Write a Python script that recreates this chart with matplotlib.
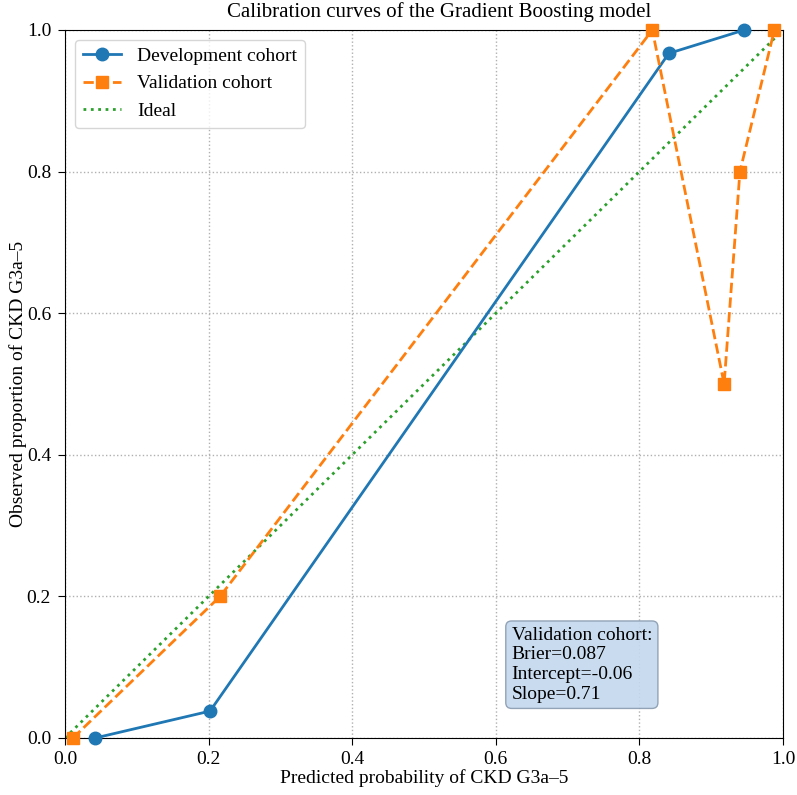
import matplotlib
matplotlib.use("Agg")
import matplotlib.pyplot as plt

plt.rcParams['font.family'] = ['Liberation Serif', 'DejaVu Serif']

dev_pred = [0.042, 0.202, 0.841, 0.946]
dev_obs = [0.0, 0.038, 0.967, 1.0]
val_pred = [0.011, 0.216, 0.818, 0.918, 0.940, 0.988]
val_obs = [0.0, 0.2, 1.0, 0.5, 0.8, 1.0]
ideal = [0.0, 1.0]
ticks = [0.0, 0.2, 0.4, 0.6, 0.8, 1.0]
box_text = "Validation cohort:\nBrier=0.087\nIntercept=-0.06\nSlope=0.71"

fig = plt.figure(figsize=(7.97, 7.95), dpi=100)
ax = fig.add_axes([65/797, 1-738/795, (783-65)/797, (738-30)/795])

ax.plot(dev_pred, dev_obs, '-o', color='#1f77b4', lw=2, ms=9, label='Development cohort', clip_on=False, zorder=3)
ax.plot(val_pred, val_obs, '--s', color='#ff7f0e', lw=2, ms=9, label='Validation cohort', clip_on=False, zorder=3)
ax.plot(ideal, ideal, ':', color='#2ca02c', lw=2, label='Ideal', zorder=2)

ax.set_xlim(0, 1)
ax.set_ylim(0, 1)
ax.set_xticks(ticks)
ax.set_yticks(ticks)
ax.set_xticklabels([f"{t:.1f}" for t in ticks], fontsize=14)
ax.set_yticklabels([f"{t:.1f}" for t in ticks], fontsize=14)
ax.tick_params(axis='y', length=5, pad=5)
ax.tick_params(axis='x', length=5, pad=4)
ax.grid(True, linestyle=':', color='#b0b0b0', lw=1)
ax.set_xlabel('Predicted probability of CKD G3a–5', fontsize=14, labelpad=1)
ax.set_ylabel('Observed proportion of CKD G3a–5', fontsize=14, labelpad=0)
ax.set_title('Calibration curves of the Gradient Boosting model', fontsize=15, pad=9, x=0.521)
ax.legend(loc='upper left', fontsize=14)
ax.text(0.622, 0.05, box_text, transform=ax.transAxes, fontsize=14, va='bottom', ha='left',
        bbox=dict(boxstyle='round', facecolor='#c4d9ee', edgecolor='#8a9bb0', alpha=0.9))

fig.savefig('out.png', dpi=100)
